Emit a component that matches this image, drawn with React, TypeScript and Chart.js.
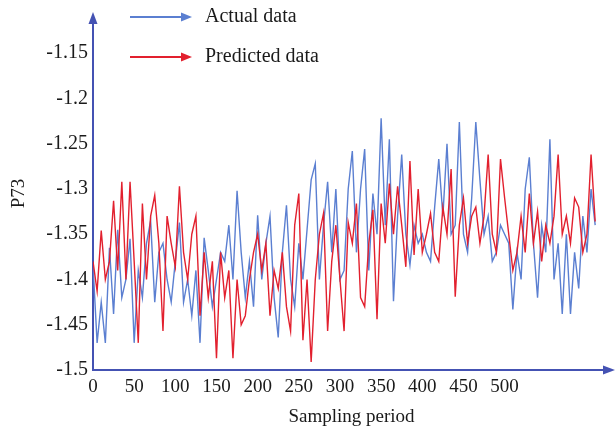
import React, { useEffect, useRef } from "react";
import { Chart, registerables } from "chart.js";

Chart.register(...registerables);

const seriesLabels = ["Actual data", "Predicted data"];
const yTickLabels = ["-1.5", "-1.45", "-1.4", "-1.35", "-1.3", "-1.25", "-1.2", "-1.15"];
const xTickLabels = ["0", "50", "100", "150", "200", "250", "300", "350", "400", "450", "500"];

const actual = [
  -1.384, -1.47, -1.425, -1.47, -1.365, -1.438, -1.345, -1.42, -1.4, -1.355,
  -1.47, -1.39, -1.42, -1.36, -1.335, -1.425, -1.37, -1.36, -1.4, -1.425,
  -1.38, -1.337, -1.425, -1.4, -1.44, -1.39, -1.47, -1.354, -1.39, -1.43,
  -1.4, -1.37, -1.38, -1.34, -1.4, -1.302, -1.37, -1.42, -1.38, -1.43,
  -1.329, -1.4, -1.36, -1.33, -1.42, -1.464, -1.37, -1.318, -1.4, -1.43,
  -1.36, -1.4, -1.345, -1.29, -1.272, -1.4, -1.34, -1.292, -1.37, -1.3,
  -1.4, -1.39, -1.3, -1.258, -1.37, -1.3, -1.256, -1.39, -1.305, -1.35,
  -1.222, -1.34, -1.245, -1.424, -1.33, -1.262, -1.35, -1.384, -1.34, -1.36,
  -1.35, -1.37, -1.38, -1.32, -1.267, -1.33, -1.25, -1.35, -1.34, -1.226,
  -1.35, -1.37, -1.31, -1.226, -1.29, -1.35, -1.33, -1.38, -1.37, -1.34,
  -1.35, -1.36, -1.433, -1.37, -1.4, -1.3, -1.265, -1.36, -1.42, -1.34,
  -1.37, -1.245, -1.4, -1.36, -1.438, -1.35, -1.438, -1.37, -1.41, -1.33,
  -1.37, -1.3, -1.34,
];

const predicted = [
  -1.38, -1.413, -1.346, -1.4, -1.38, -1.313, -1.39, -1.292, -1.4, -1.292,
  -1.38, -1.47, -1.316, -1.4, -1.33, -1.307, -1.36, -1.457, -1.33, -1.36,
  -1.386, -1.297, -1.37, -1.4, -1.35, -1.33, -1.44, -1.37, -1.42, -1.38,
  -1.487, -1.37, -1.42, -1.39, -1.487, -1.4, -1.45, -1.44, -1.4, -1.37,
  -1.35, -1.39, -1.36, -1.44, -1.39, -1.41, -1.37, -1.43, -1.457, -1.34,
  -1.305, -1.467, -1.4, -1.491, -1.4, -1.35, -1.327, -1.457, -1.38, -1.34,
  -1.4, -1.457, -1.337, -1.36, -1.316, -1.42, -1.43, -1.36, -1.323, -1.444,
  -1.316, -1.36, -1.294, -1.35, -1.297, -1.34, -1.386, -1.269, -1.373, -1.3,
  -1.37, -1.35, -1.327, -1.37, -1.38, -1.32, -1.35, -1.278, -1.419, -1.34,
  -1.31, -1.36, -1.33, -1.32, -1.36, -1.33, -1.262, -1.35, -1.37, -1.267,
  -1.31, -1.35, -1.39, -1.37, -1.33, -1.37, -1.305, -1.36, -1.325, -1.38,
  -1.34, -1.36, -1.33, -1.262, -1.35, -1.33, -1.36, -1.31, -1.32, -1.37,
  -1.35, -1.262, -1.336,
];

const SAMPLE_STEP = 5;
const samplingPeriods = actual.map((_, i) => i * SAMPLE_STEP);

const BLUE = "#5b7fd1";
const RED = "#e2202e";
const AXIS = "#4452b3";
const TEXT = "#1a1a1a";
const FONT = "'Liberation Serif', 'Times New Roman', serif";

const arrowPlugin = {
  id: "axisArrows",
  afterDraw(chart: any) {
    const { ctx, chartArea } = chart;
    const { left, bottom, right, top } = chartArea;
    ctx.save();
    ctx.fillStyle = AXIS;
    ctx.strokeStyle = AXIS;
    ctx.lineWidth = 2;
    // y arrow
    ctx.beginPath();
    ctx.moveTo(left, top - 5);
    ctx.lineTo(left - 4.5, top + 7);
    ctx.lineTo(left + 4.5, top + 7);
    ctx.closePath();
    ctx.fill();
    // x arrow
    ctx.beginPath();
    ctx.moveTo(right + 5, bottom);
    ctx.lineTo(right - 7, bottom - 4.5);
    ctx.lineTo(right - 7, bottom + 4.5);
    ctx.closePath();
    ctx.fill();

    // legend
    const rows = [
      { label: seriesLabels[0], color: BLUE, y: 17 },
      { label: seriesLabels[1], color: RED, y: 57 },
    ];
    const x0 = 130;
    const x1 = 192;
    ctx.font = `20px ${FONT}`;
    ctx.textBaseline = "middle";
    ctx.textAlign = "left";
    for (const r of rows) {
      ctx.strokeStyle = r.color;
      ctx.fillStyle = r.color;
      ctx.lineWidth = 2;
      ctx.beginPath();
      ctx.moveTo(x0, r.y);
      ctx.lineTo(x1 - 8, r.y);
      ctx.stroke();
      ctx.beginPath();
      ctx.moveTo(x1, r.y);
      ctx.lineTo(x1 - 11, r.y - 4.5);
      ctx.lineTo(x1 - 11, r.y + 4.5);
      ctx.closePath();
      ctx.fill();
      ctx.fillStyle = TEXT;
      ctx.fillText(r.label, 205, r.y);
    }
    ctx.restore();
  },
};

export default function App() {
  const ref = useRef<HTMLCanvasElement | null>(null);
  useEffect(() => {
    if (!ref.current) return;
    const chart = new Chart(ref.current, {
      type: "line",
      data: {
        datasets: [
          {
            label: seriesLabels[1],
            data: samplingPeriods.map((x, i) => ({ x, y: predicted[i] })),
            borderColor: RED,
            backgroundColor: RED,
            borderWidth: 1.4,
            pointRadius: 0,
            tension: 0,
            order: 0,
          },
          {
            label: seriesLabels[0],
            data: samplingPeriods.map((x, i) => ({ x, y: actual[i] })),
            borderColor: BLUE,
            backgroundColor: BLUE,
            borderWidth: 1.4,
            pointRadius: 0,
            tension: 0,
            order: 1,
          },
        ],
      },
      options: {
        animation: false,
        responsive: false,
        devicePixelRatio: 1,
        layout: { padding: { top: 12, right: 6, left: 0, bottom: 0 } },
        plugins: { legend: { display: false }, tooltip: { enabled: false } },
        scales: {
          x: {
            type: "linear",
            min: 0,
            max: 628,
            grid: { display: false, drawTicks: false },
            border: { color: AXIS, width: 2 },
            ticks: {
              stepSize: 50,
              autoSkip: false,
              maxRotation: 0,
              padding: 6,
              color: TEXT,
              font: { family: FONT, size: 19 },
              callback: (v: any) => {
                const idx = Math.round(Number(v) / 50);
                return xTickLabels[idx] ?? "";
              },
            },
            afterBuildTicks: (axis: any) => {
              axis.ticks = axis.ticks.filter((t: any) => t.value <= 500);
            },
            afterFit: (axis: any) => {
              axis.height = 62;
            },
            title: {
              display: true,
              text: "Sampling period",
              color: TEXT,
              font: { family: FONT, size: 19 },
              padding: { top: 0 },
            },
          },
          y: {
            type: "linear",
            min: -1.5,
            max: -1.11,
            grid: { display: false, drawTicks: false },
            border: { color: AXIS, width: 2 },
            ticks: {
              stepSize: 0.05,
              padding: 5,
              color: TEXT,
              font: { family: FONT, size: 20 },
              callback: (v: any) => {
                const idx = Math.round((Number(v) + 1.5) / 0.05);
                return yTickLabels[idx] ?? "";
              },
            },
            afterBuildTicks: (axis: any) => {
              axis.ticks = axis.ticks.filter((t: any) => t.value <= -1.149);
            },
            afterFit: (axis: any) => {
              axis.width = 93;
            },
            title: {
              display: true,
              text: "P73",
              color: TEXT,
              font: { family: FONT, size: 19 },
              padding: { top: 8, bottom: 0 },
            },
          },
        },
      },
      plugins: [arrowPlugin],
    });
    return () => chart.destroy();
  }, []);
  return (
    <div style={{ position: "absolute", left: 0, top: 0, width: 616, height: 432, background: "#fff" }}>
      <canvas ref={ref} width={616} height={432} />
    </div>
  );
}
